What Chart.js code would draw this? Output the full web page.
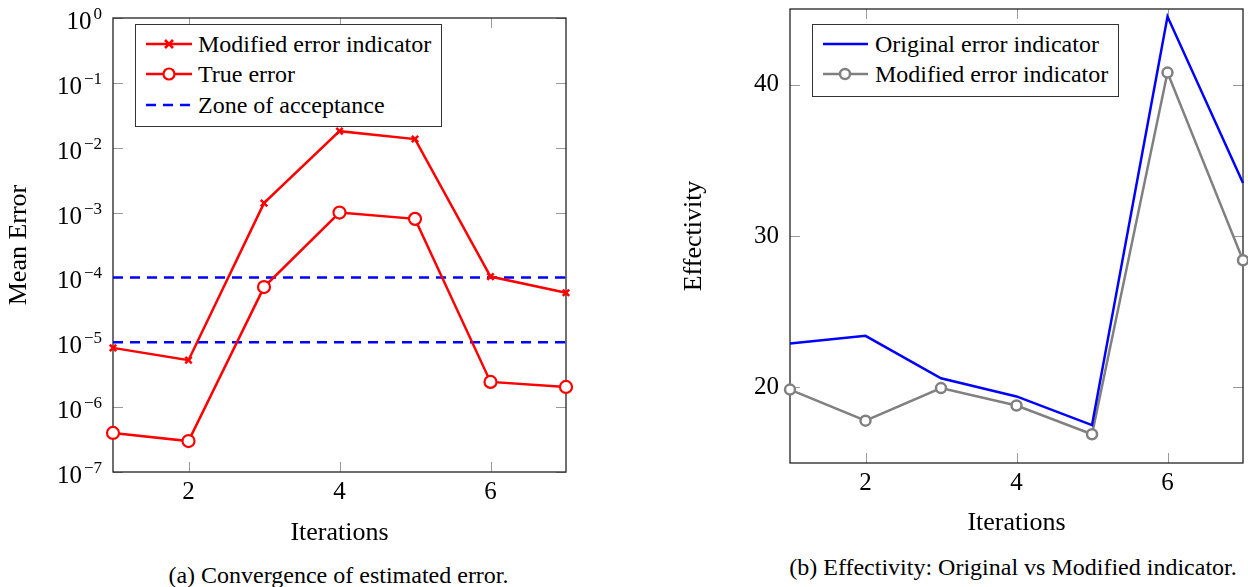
<!DOCTYPE html>
<html>
<head>
<meta charset="utf-8">
<script src="https://cdn.jsdelivr.net/npm/chart.js@4/dist/chart.umd.min.js"></script>
<style>
  body { margin: 0; background: #fff; width: 1248px; height: 587px; position: relative; overflow: hidden;
         font-family: 'Liberation Serif', 'Times New Roman', serif; color: #000; }
  .box { position: absolute; }
  .legend { position: absolute; border: 1px solid #333; background: #fff; box-sizing: border-box; }
  .row { position: absolute; left: 0; height: 28px; line-height: 28px; font-size: 24px; white-space: nowrap; }
  .row svg { position: absolute; top: 4px; }
  .row span { position: absolute; }
  .caption { position: absolute; text-align: center; font-size: 24px; line-height: 28px; white-space: nowrap; }
</style>
</head>
<body>
<div class="box" style="left:0;top:0;width:620px;height:550px"><canvas id="errorChart" width="620" height="550"></canvas></div>
<div class="box" style="left:650px;top:0;width:598px;height:540px"><canvas id="effChart" width="598" height="540"></canvas></div>

<div class="legend" style="left:135px;top:24px;width:307px;height:103px">
  <div class="row" style="top:5px"><svg width="46" height="20" style="left:10px"><line x1="0" y1="10" x2="46" y2="10" stroke="#f00" stroke-width="2.5"/><path d="M19 6 L27 14 M27 6 L19 14" stroke="#f00" stroke-width="2.5"/></svg><span style="left:62px">Modified error indicator</span></div>
  <div class="row" style="top:35px"><svg width="46" height="20" style="left:10px"><line x1="0" y1="10" x2="46" y2="10" stroke="#f00" stroke-width="2.5"/><circle cx="23" cy="10" r="5.5" fill="#fff" stroke="#f00" stroke-width="2.2"/></svg><span style="left:62px">True error</span></div>
  <div class="row" style="top:66px"><svg width="46" height="20" style="left:10px"><line x1="0" y1="10" x2="46" y2="10" stroke="#00f" stroke-width="2.5" stroke-dasharray="10 7"/></svg><span style="left:62px">Zone of acceptance</span></div>
</div>

<div class="legend" style="left:812px;top:24px;width:307px;height:73px">
  <div class="row" style="top:5px"><svg width="45" height="20" style="left:10px"><line x1="0" y1="10" x2="45" y2="10" stroke="#00f" stroke-width="2.5"/></svg><span style="left:62px">Original error indicator</span></div>
  <div class="row" style="top:35px"><svg width="45" height="20" style="left:10px"><line x1="0" y1="10" x2="45" y2="10" stroke="#808080" stroke-width="2.5"/><circle cx="22" cy="10" r="5" fill="#fff" stroke="#808080" stroke-width="2.5"/></svg><span style="left:62px">Modified error indicator</span></div>
</div>

<div class="caption" style="left:0;top:561px;width:677px">(a) Convergence of estimated error.</div>
<div class="caption" style="left:778px;top:553px;width:470px">(b) Effectivity: Original vs Modified indicator.</div>

<script>
// values
const iterations = [1, 2, 3, 4, 5, 6, 7];
const modifiedIndicatorError = [8.2e-6, 5.3e-6, 1.4e-3, 1.8e-2, 1.36e-2, 1.03e-4, 5.8e-5];
const trueError = [4.0e-7, 3.0e-7, 7.1e-5, 1.0e-3, 8.0e-4, 2.45e-6, 2.05e-6];
const acceptanceBounds = [1e-5, 1e-4];

const originalEffectivity = [22.9, 23.4, 20.6, 19.4, 17.5, 44.5, 33.5];
const modifiedEffectivity = [19.85, 17.8, 19.95, 18.8, 16.9, 40.8, 28.4];

const iterationTicks = [2, 4, 6];
const meanErrorTicks = [1e-7, 1e-6, 1e-5, 1e-4, 1e-3, 1e-2, 1e-1, 1];
const effectivityTicks = [20, 30, 40];

const FONT = "'Liberation Serif', 'Times New Roman', serif";
Chart.defaults.color = '#000';
Chart.defaults.font.family = FONT;

const pts = arr => iterations.map((x, i) => ({ x, y: arr[i] }));

// pgfplots-like frame with inward tick marks on all four sides
const frame = {
  id: 'frame',
  beforeDatasetsDraw(chart) {
    const { ctx, chartArea: a, scales } = chart;
    ctx.save();
    ctx.strokeStyle = '#999';
    ctx.lineWidth = 1;
    ctx.beginPath();
    scales.x.ticks.forEach(t => {
      const px = Math.round(scales.x.getPixelForValue(t.value)) + 0.5;
      ctx.moveTo(px, a.bottom); ctx.lineTo(px, a.bottom - 10);
      ctx.moveTo(px, a.top); ctx.lineTo(px, a.top + 10);
    });
    scales.y.ticks.forEach(t => {
      const py = Math.round(scales.y.getPixelForValue(t.value)) + 0.5;
      ctx.moveTo(a.left, py); ctx.lineTo(a.left + 10, py);
      ctx.moveTo(a.right, py); ctx.lineTo(a.right - 10, py);
    });
    ctx.stroke();
    ctx.strokeStyle = '#222';
    ctx.lineWidth = 1.3;
    ctx.strokeRect(a.left, a.top, a.right - a.left, a.bottom - a.top);
    ctx.restore();
  }
};

// 10^n labels with a real superscript for the log axis
const powerLabels = {
  id: 'powerLabels',
  afterDraw(chart) {
    const { ctx, chartArea: a, scales: { y } } = chart;
    ctx.save();
    ctx.fillStyle = '#000';
    ctx.textAlign = 'left';
    ctx.textBaseline = 'alphabetic';
    y.ticks.forEach(t => {
      const py = y.getPixelForValue(t.value);
      const exp = String(Math.round(Math.log10(t.value))).replace('-', '\u2212');
      ctx.font = '17px ' + FONT;
      const ws = ctx.measureText(exp).width;
      ctx.font = '25px ' + FONT;
      const wb = ctx.measureText('10').width;
      const xr = a.left - 11;
      ctx.fillText('10', xr - ws - 2 - wb, py + 11);
      ctx.font = '17px ' + FONT;
      ctx.fillText(exp, xr - ws, py + 1);
    });
    ctx.restore();
  }
};

function xScale(height) {
  return {
    type: 'linear', min: 1, max: 7,
    grid: { display: false, drawTicks: false }, border: { display: false },
    afterBuildTicks: s => { s.ticks = iterationTicks.map(v => ({ value: v })); },
    afterFit: s => { s.height = height; s.paddingLeft = 0; s.paddingRight = 0; },
    ticks: { padding: 5, font: { size: 25 } },
    title: { display: true, text: 'Iterations', font: { size: 26 }, padding: 0 }
  };
}

// nudge layout padding until the plot area sits where the figure has it
function pinArea(chart, target) {
  const p = chart.options.layout.padding;
  for (let i = 0; i < 4; i++) {
    const a = chart.chartArea;
    p.top += target.top - a.top;
    p.left += target.left - a.left;
    p.right += a.right - target.right;
    p.bottom += a.bottom - target.bottom;
    chart.update();
  }
}

const errorChart = new Chart(document.getElementById('errorChart'), {
  type: 'line',
  data: {
    datasets: [
      { label: 'Modified error indicator', data: pts(modifiedIndicatorError), borderColor: '#f00', backgroundColor: '#f00',
        borderWidth: 2.5, pointStyle: 'crossRot', pointRadius: 4.5, pointBorderWidth: 2.5, clip: false },
      { label: 'True error', data: pts(trueError), borderColor: '#f00', backgroundColor: '#fff',
        borderWidth: 2.5, pointStyle: 'circle', pointRadius: 6, pointBorderWidth: 2.2, clip: false },
      ...acceptanceBounds.map(b => ({
        label: 'Zone of acceptance', data: [{ x: iterations[0], y: b }, { x: iterations[iterations.length - 1], y: b }],
        borderColor: '#00f', borderWidth: 2.5, borderDash: [10, 7], pointRadius: 0
      }))
    ]
  },
  options: {
    responsive: false, animation: false,
    layout: { autoPadding: false, padding: { top: 18, right: 54, left: 0, bottom: 0 } },
    plugins: { legend: { display: false }, tooltip: { enabled: false } },
    scales: {
      x: xScale(77),
      y: {
        type: 'logarithmic', min: 1e-7, max: 1,
        grid: { display: false, drawTicks: false }, border: { display: false },
        afterBuildTicks: s => { s.ticks = meanErrorTicks.map(v => ({ value: v })); },
        afterFit: s => { s.width = 113; s.paddingTop = 0; s.paddingBottom = 0; },
        ticks: { display: false },
        title: { display: true, text: 'Mean Error', font: { size: 26 }, padding: { top: 4, bottom: 4 } }
      }
    }
  },
  plugins: [frame, powerLabels]
});
pinArea(errorChart, { left: 113, top: 18, right: 566, bottom: 472 });

const effChart = new Chart(document.getElementById('effChart'), {
  type: 'line',
  data: {
    datasets: [
      { label: 'Original error indicator', data: pts(originalEffectivity), borderColor: '#00f',
        borderWidth: 2.5, pointRadius: 0, clip: false },
      { label: 'Modified error indicator', data: pts(modifiedEffectivity), borderColor: '#808080', backgroundColor: '#fff',
        borderWidth: 2.5, pointStyle: 'circle', pointRadius: 5, pointBorderWidth: 2.5, clip: false }
    ]
  },
  options: {
    responsive: false, animation: false,
    layout: { autoPadding: false, padding: { top: 9, right: 5, left: 0, bottom: 0 } },
    plugins: { legend: { display: false }, tooltip: { enabled: false } },
    scales: {
      x: xScale(76),
      y: {
        type: 'linear', min: 15, max: 45,
        grid: { display: false, drawTicks: false }, border: { display: false },
        afterBuildTicks: s => { s.ticks = effectivityTicks.map(v => ({ value: v })); },
        afterFit: s => { s.width = 140; s.paddingTop = 0; s.paddingBottom = 0; },
        ticks: { padding: 11, font: { size: 25 } },
        title: { display: true, text: 'Effectivity', font: { size: 26 }, padding: { top: 29, bottom: 29 } }
      }
    }
  },
  plugins: [frame]
});
pinArea(effChart, { left: 140, top: 9, right: 593, bottom: 463 });
</script>
</body>
</html>
